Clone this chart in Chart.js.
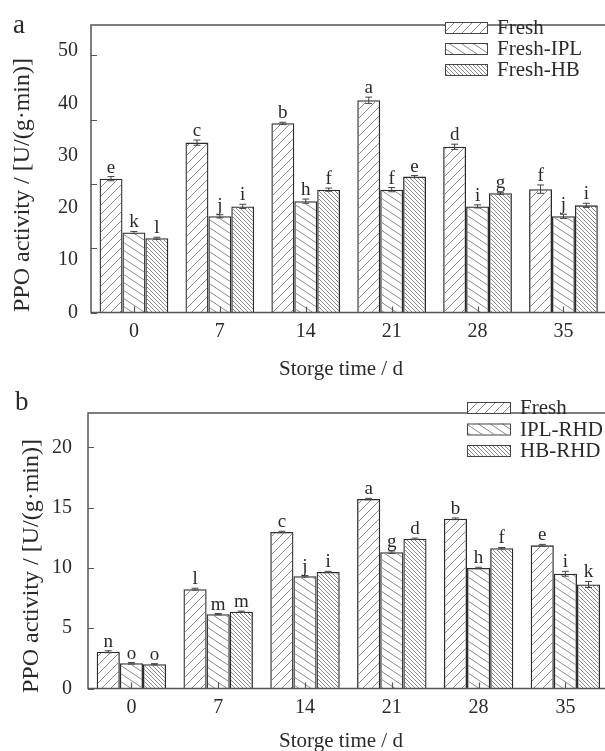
<!DOCTYPE html>
<html><head><meta charset="utf-8">
<script src="https://cdn.jsdelivr.net/npm/chart.js@4.4.1/dist/chart.umd.min.js"></script>
<style>
html,body{margin:0;padding:0;background:#fff;width:605px;height:751px;overflow:hidden;position:relative}
canvas{position:absolute;left:0}
#c1{top:0}
#c2{top:385px}
</style></head><body>
<canvas id="c1" width="620" height="385"></canvas>
<canvas id="c2" width="620" height="366"></canvas>
<script>
// ---------- data ----------
const days = ['0', '7', '14', '21', '28', '35'];

// panel a
const aNames = ['Fresh', 'Fresh-IPL', 'Fresh-HB'];
const aFresh = [25.6, 32.5, 36.2, 40.6, 31.7, 23.6];
const aIPL   = [15.3, 18.4, 21.3, 23.5, 20.3, 18.4];
const aHB    = [14.2, 20.3, 23.5, 26.0, 22.8, 20.5];
const aFreshErr = [0.4, 0.5, 0.2, 0.6, 0.5, 0.8];
const aIPLErr   = [0.2, 0.3, 0.4, 0.4, 0.3, 0.4];
const aHBErr    = [0.2, 0.4, 0.3, 0.2, 0.2, 0.4];
const aFreshSig = ['e', 'c', 'b', 'a', 'd', 'f'];
const aIPLSig   = ['k', 'j', 'h', 'f', 'i', 'j'];
const aHBSig    = ['l', 'i', 'f', 'e', 'g', 'i'];
const aTickMarks = [0, 12.3, 24.6, 36.9, 49.2];

// panel b
const bNames = ['Fresh', 'IPL-RHD', 'HB-RHD'];
const bFresh = [3.05, 8.24, 12.99, 15.72, 14.08, 11.88];
const bIPL   = [2.09, 6.17, 9.31, 11.31, 10.0, 9.52];
const bHB    = [2.01, 6.37, 9.67, 12.42, 11.64, 8.63];
const bFreshErr = [0.08, 0.08, 0.06, 0.06, 0.07, 0.08];
const bIPLErr   = [0.06, 0.05, 0.06, 0.10, 0.06, 0.20];
const bHBErr    = [0.05, 0.05, 0.05, 0.06, 0.06, 0.25];
const bFreshSig = ['n', 'l', 'c', 'a', 'b', 'e'];
const bIPLSig   = ['o', 'm', 'j', 'g', 'h', 'i'];
const bHBSig    = ['o', 'm', 'i', 'd', 'f', 'k'];
const bTickMarks = [0, 5, 10, 15, 20];

const yTitle = 'PPO activity / [U/(g\u00B7min)]';
const xTitle = 'Storge time / d';

// ---------- styles ----------
const SERIF = '"Liberation Serif", "Times New Roman", serif';
const INK = '#2a2a2a';

function hatch(ctx, w, h, dir) {
  const c = document.createElement('canvas');
  c.width = w; c.height = h;
  const g = c.getContext('2d');
  g.strokeStyle = '#8a8a8a';
  g.lineWidth = 1;
  for (let k = -2; k <= 2; k++) {
    g.beginPath();
    if (dir > 0) { g.moveTo(k * w - w, -h); g.lineTo(k * w + 2 * w, 2 * h); }
    else { g.moveTo(k * w - w, 2 * h); g.lineTo(k * w + 2 * w, -h); }
    g.stroke();
  }
  return ctx.createPattern(c, 'repeat');
}

function deco(o) {
  return {
    id: 'deco',
    afterDatasetsDraw(chart) {
      const ctx = chart.ctx, ys = chart.scales.y, xs = chart.scales.x, a = chart.chartArea;
      ctx.save();
      // error bars + significance letters
      chart.data.datasets.forEach((ds, i) => {
        const meta = chart.getDatasetMeta(i);
        meta.data.forEach((bar, j) => {
          const v = ds.data[j], e = o.errs[i][j];
          const yt = ys.getPixelForValue(v + e), yb = ys.getPixelForValue(v - e);
          ctx.strokeStyle = '#444'; ctx.lineWidth = 1;
          ctx.beginPath();
          ctx.moveTo(bar.x, yt); ctx.lineTo(bar.x, yb);
          ctx.moveTo(bar.x - 3.5, yt); ctx.lineTo(bar.x + 3.5, yt);
          ctx.moveTo(bar.x - 3.5, yb); ctx.lineTo(bar.x + 3.5, yb);
          ctx.stroke();
          ctx.fillStyle = INK;
          ctx.font = '19px ' + SERIF;
          ctx.textAlign = 'center'; ctx.textBaseline = 'alphabetic';
          ctx.fillText(o.sig[i][j], bar.x, yt - 4);
        });
      });
      // frame
      ctx.strokeStyle = '#555'; ctx.lineWidth = 1.5;
      ctx.strokeRect(a.left, a.top, a.right - a.left, a.bottom - a.top);
      // inward tick marks
      ctx.lineWidth = 1.2;
      ctx.beginPath();
      o.tickMarks.forEach(v => {
        const y = Math.round(ys.getPixelForValue(v)) + 0.5;
        ctx.moveTo(a.left, y); ctx.lineTo(a.left + 6, y);
      });
      days.forEach((d, j) => {
        const x = Math.round(xs.getPixelForValue(j)) + 0.5;
        ctx.moveTo(x, a.bottom); ctx.lineTo(x, a.bottom - 6);
      });
      ctx.stroke();
      // legend
      ctx.font = '21px ' + SERIF;
      ctx.textAlign = 'left'; ctx.textBaseline = 'middle';
      chart.data.datasets.forEach((ds, i) => {
        const y = o.leg.y + i * o.leg.row;
        ctx.fillStyle = '#fff';
        ctx.fillRect(o.leg.x, y, o.leg.w, o.leg.h);
        ctx.fillStyle = ds.backgroundColor;
        ctx.fillRect(o.leg.x, y, o.leg.w, o.leg.h);
        ctx.strokeStyle = '#444'; ctx.lineWidth = 1;
        ctx.strokeRect(o.leg.x + 0.5, y + 0.5, o.leg.w, o.leg.h);
        ctx.fillStyle = INK;
        ctx.fillText(ds.label, o.leg.x + o.leg.w + 10, y + o.leg.h / 2 + 1);
      });
      // panel letter
      ctx.font = '27px ' + SERIF;
      ctx.textAlign = 'left'; ctx.textBaseline = 'alphabetic';
      ctx.fillText(o.panel, o.panelX, o.panelY);
      // x title
      ctx.font = '21px ' + SERIF;
      ctx.textAlign = 'center'; ctx.textBaseline = 'middle';
      ctx.fillText(xTitle, o.xtX, o.xtY);
      // y title
      ctx.save();
      ctx.translate(o.ytX, o.ytY);
      ctx.rotate(-Math.PI / 2);
      ctx.font = '24px ' + SERIF;
      ctx.textAlign = 'left'; ctx.textBaseline = 'middle';
      ctx.fillText(yTitle, 0, 0);
      ctx.restore();
      ctx.restore();
    }
  };
}

function build(id, names, series, errs, sig, ymax, step, tickMarks, geo) {
  const cv = document.getElementById(id);
  const ctx = cv.getContext('2d');
  const pats = [hatch(ctx, 9, 9, -1), hatch(ctx, 12, 8, 1), hatch(ctx, 4, 4, 1)];
  return new Chart(ctx, {
    type: 'bar',
    data: {
      labels: days,
      datasets: series.map((s, i) => ({
        label: names[i], data: s,
        backgroundColor: pats[i], borderColor: '#2b2b2b', borderWidth: 1.3,
        categoryPercentage: 0.8, barPercentage: 1.0
      }))
    },
    options: {
      responsive: false, animation: false, devicePixelRatio: 1,
      layout: { padding: { left: 0, top: geo.top, right: geo.right, bottom: 0 } },
      plugins: { legend: { display: false }, tooltip: { enabled: false } },
      scales: {
        x: {
          type: 'category', offset: true,
          grid: { display: false, drawTicks: false }, border: { display: false },
          ticks: { padding: 7, color: INK, font: { family: SERIF, size: 20 } },
          afterFit(s) { s.height = geo.xh; }
        },
        y: {
          min: 0, max: ymax,
          grid: { display: false, drawTicks: false }, border: { display: false },
          ticks: { stepSize: step, includeBounds: false, padding: geo.tp, color: INK, font: { family: SERIF, size: 20 } },
          afterFit(s) { s.width = geo.left; }
        }
      }
    },
    plugins: [deco({ errs, sig, tickMarks, leg: geo.leg, panel: geo.panel, panelX: geo.panelX, panelY: geo.panelY,
                     xtX: geo.xtX, xtY: geo.xtY, ytX: geo.ytX, ytY: geo.ytY })]
  });
}

build('c1', aNames, [aFresh, aIPL, aHB], [aFreshErr, aIPLErr, aHBErr], [aFreshSig, aIPLSig, aHBSig],
  55, 10, aTickMarks,
  { top: 19, right: 13.6, xh: 72.5, left: 91, tp: 13,
    leg: { x: 445, y: 22, w: 42, h: 11, row: 21 },
    panel: 'a', panelX: 13, panelY: 33, xtX: 341, xtY: 369, ytX: 23, ytY: 312 });

build('c2', bNames, [bFresh, bIPL, bHB], [bFreshErr, bIPLErr, bHBErr], [bFreshSig, bIPLSig, bHBSig],
  22.86, 5, bTickMarks,
  { top: 10, right: 11.2, xh: 62.5, left: 88, tp: 16,
    leg: { x: 467, y: 17, w: 43, h: 11, row: 21.5 },
    panel: 'b', panelX: 15, panelY: 25, xtX: 341, xtY: 356, ytX: 32, ytY: 308 });
</script>
</body></html>
